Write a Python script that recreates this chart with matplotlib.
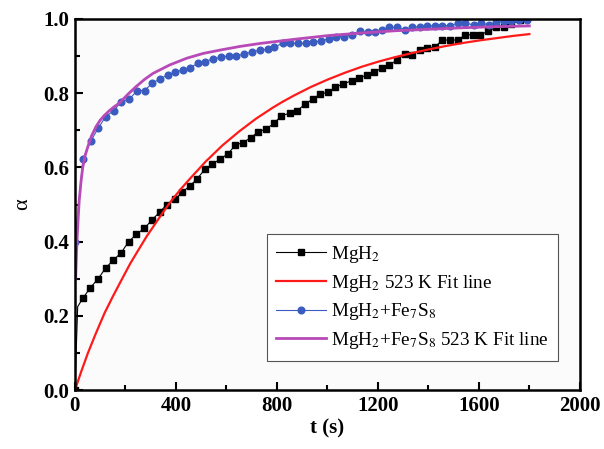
import numpy as np
import matplotlib
matplotlib.use("Agg")
import matplotlib.pyplot as plt
from matplotlib.ticker import MultipleLocator

plt.rcParams['font.family'] = ['Liberation Serif', 'DejaVu Serif']
plt.rcParams['mathtext.fontset'] = 'stix'

# MgH2 data (black squares)
t_mgh2 = [0, 11, 31, 60, 92, 123, 152, 183, 213, 244, 275, 305, 336, 365, 396, 425,
          455, 484, 515, 543, 574, 605, 636, 666, 697, 726, 757, 789, 818, 851, 880,
          912, 942, 972, 1003, 1032, 1063, 1096, 1125, 1156, 1185, 1216, 1245, 1276,
          1307, 1336, 1367, 1396, 1427, 1456, 1487, 1516, 1547, 1576, 1605, 1636,
          1667, 1699, 1729, 1762]
a_mgh2 = [0.0, 0.225, 0.247, 0.275, 0.30, 0.33, 0.35, 0.37, 0.40, 0.42, 0.436, 0.458,
          0.48, 0.50, 0.514, 0.533, 0.55, 0.569, 0.595, 0.608, 0.622, 0.636, 0.66,
          0.667, 0.68, 0.696, 0.703, 0.719, 0.739, 0.746, 0.753, 0.77, 0.784, 0.798,
          0.802, 0.816, 0.825, 0.833, 0.840, 0.849, 0.856, 0.868, 0.876, 0.889, 0.906,
          0.903, 0.916, 0.921, 0.925, 0.943, 0.943, 0.943, 0.957, 0.957, 0.957, 0.966,
          0.977, 0.977, 0.985, 0.997]

# MgH2 523 K fit
t_fit1 = [0, 25, 51, 80, 117, 150, 184, 220, 251, 285, 317, 350, 384, 420, 451, 517,
          584, 651, 717, 784, 826, 869, 936, 1003, 1070, 1136, 1203, 1269, 1336, 1403,
          1470, 1536, 1603, 1669, 1735, 1800]
a_fit1 = [0.0, 0.05, 0.099, 0.148, 0.207, 0.252, 0.296, 0.342, 0.377, 0.415, 0.447,
          0.48, 0.512, 0.542, 0.566, 0.615, 0.659, 0.697, 0.731, 0.761, 0.778, 0.794,
          0.817, 0.837, 0.855, 0.871, 0.885, 0.897, 0.908, 0.918, 0.927, 0.935, 0.942,
          0.948, 0.954, 0.959]

# MgH2+Fe7S8 data (blue circles)
t_fe = [0, 32, 62, 92, 122, 153, 184, 216, 247, 276, 305, 336, 367, 397, 427, 456,
        487, 517, 547, 580, 609, 640, 669, 700, 732, 763, 789, 823, 853, 883, 916,
        945, 976, 1005, 1036, 1067, 1096, 1129, 1159, 1187, 1216, 1246, 1276, 1307,
        1336, 1365, 1396, 1427, 1456, 1487, 1516, 1547, 1579, 1609, 1640, 1669, 1699,
        1729, 1760, 1789]
a_fe = [0.40, 0.623, 0.670, 0.705, 0.737, 0.752, 0.777, 0.784, 0.807, 0.807, 0.826,
        0.838, 0.849, 0.856, 0.863, 0.869, 0.880, 0.885, 0.893, 0.896, 0.901, 0.899,
        0.906, 0.910, 0.916, 0.918, 0.924, 0.934, 0.934, 0.934, 0.934, 0.937, 0.941,
        0.946, 0.952, 0.952, 0.957, 0.966, 0.964, 0.964, 0.970, 0.977, 0.977, 0.970,
        0.977, 0.979, 0.981, 0.982, 0.982, 0.982, 0.988, 0.988, 0.984, 0.988, 0.984,
        0.991, 0.993, 0.995, 0.997, 0.997]

# MgH2+Fe7S8 523 K fit
t_fit2 = [3, 5, 8, 12, 17, 24, 31, 41, 51, 66, 84, 100, 117, 137, 157, 176, 210, 243,
          276, 309, 376, 443, 509, 576, 656, 736, 870, 1003, 1136, 1269, 1403, 1536,
          1669, 1800]
a_fit2 = [0.30, 0.34, 0.40, 0.45, 0.51, 0.56, 0.60, 0.633, 0.655, 0.685, 0.71, 0.727,
          0.74, 0.753, 0.764, 0.773, 0.797, 0.818, 0.837, 0.853, 0.876, 0.894, 0.907,
          0.916, 0.926, 0.934, 0.945, 0.955, 0.962, 0.968, 0.972, 0.976, 0.979, 0.981]

fig = plt.figure(figsize=(6.04, 4.49), dpi=100)
ax = fig.add_axes([0.124, 0.131, 0.836, 0.827])
ax.set_facecolor('#fbfbfb')

ax.plot(t_mgh2, a_mgh2, '-s', color='black', lw=0.8, ms=4,
        markevery=[0] + list(range(2, len(t_mgh2))), label='MgH$_2$')
ax.plot(t_fit1, a_fit1, '-', color='#ff1a1a', lw=1.6, label='MgH$_2$ 523 K Fit line')
ax.plot(t_fe, a_fe, '-o', color='#3a5cc0', lw=0.8, ms=4.8,
        label='MgH$_2$+Fe$_7$S$_8$')
ax.plot(t_fit2, a_fit2, '-', color='#b84ab8', lw=2, label='MgH$_2$+Fe$_7$S$_8$ 523 K Fit line')

ax.set_xlim(0, 2000)
ax.set_ylim(0, 1.0)
ax.xaxis.set_major_locator(MultipleLocator(400))
ax.xaxis.set_minor_locator(MultipleLocator(200))
ax.yaxis.set_major_locator(MultipleLocator(0.2))
ax.yaxis.set_minor_locator(MultipleLocator(0.1))
ax.yaxis.set_major_formatter(matplotlib.ticker.FormatStrFormatter('%.1f'))

ax.tick_params(which='both', direction='in', top=False, right=False, width=1.5)
ax.tick_params(which='major', length=6, labelsize=15, pad=4)
ax.tick_params(which='minor', length=3.5)
for lab in ax.get_xticklabels() + ax.get_yticklabels():
    lab.set_fontweight('bold')
for sp in ax.spines.values():
    sp.set_linewidth(1.8)

ax.set_xlabel('t (s)', fontsize=15, fontweight='bold', labelpad=2)
ax.set_ylabel('α', fontsize=16, labelpad=8)

leg = ax.legend(loc='lower right', bbox_to_anchor=(0.976, 0.054), fontsize=13.8,
                numpoints=1, handlelength=2.6, handletextpad=0.25, labelspacing=0.4,
                borderpad=0.5, fancybox=False, framealpha=1)
leg.get_frame().set_edgecolor('#555555')
leg.get_frame().set_linewidth(0.8)

fig.savefig('out.png', dpi=100)
